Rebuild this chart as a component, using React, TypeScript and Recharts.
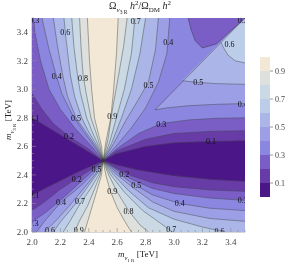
import { ScatterChart, Scatter, XAxis, YAxis, BarChart, Bar } from "recharts"

type Pt = [number, number]

const FONT = "'Liberation Serif', 'DejaVu Serif', serif"

// fill colours, band 0-0.1 up to 0.9-1
const levelColors = ["#4b1688", "#683ca7", "#7a5ec6", "#8b86df", "#9c9fe6", "#acb5e7", "#bccde9", "#cad9e3", "#dde0dc", "#f2e8d5"]
const contourLevels = [0.1, 0.2, 0.3, 0.4, 0.5, 0.6, 0.7, 0.8, 0.9]
const legendTicks = [0.1, 0.3, 0.5, 0.7, 0.9]

const frameTicks = [
  2.0, 2.05, 2.1, 2.15, 2.2, 2.25, 2.3, 2.35, 2.4, 2.45, 2.5, 2.55, 2.6, 2.65, 2.7, 2.75,
  2.8, 2.85, 2.9, 2.95, 3.0, 3.05, 3.1, 3.15, 3.2, 3.25, 3.3, 3.35, 3.4, 3.45, 3.5,
]

// contour branches from the centre point to the frame, index 0 = 0.1 ... 8 = 0.9
const upperLeft: Pt[][] = [
  [[2.5, 2.5], [2.4, 2.56], [2.3, 2.62], [2.2, 2.68], [2.1, 2.74], [2.0, 2.8]],
  [[2.5, 2.5], [2.4, 2.58], [2.26, 2.67], [2.15, 2.76], [2.07, 2.86], [2.0, 2.97]],
  [[2.5, 2.5], [2.42, 2.6], [2.3, 2.73], [2.2, 2.86], [2.12, 3.0], [2.06, 3.2], [2.02, 3.4], [2.01, 3.5]],
  [[2.5, 2.5], [2.44, 2.6], [2.36, 2.71], [2.28, 2.83], [2.21, 2.97], [2.17, 3.1], [2.12, 3.28], [2.07, 3.5]],
  [[2.5, 2.5], [2.45, 2.6], [2.38, 2.7], [2.31, 2.8], [2.25, 2.95], [2.22, 3.08], [2.18, 3.3], [2.15, 3.5]],
  [[2.5, 2.5], [2.46, 2.6], [2.4, 2.7], [2.35, 2.8], [2.3, 2.95], [2.27, 3.1], [2.24, 3.35], [2.225, 3.5]],
  [[2.5, 2.5], [2.47, 2.6], [2.425, 2.7], [2.385, 2.8], [2.34, 2.98], [2.32, 3.1], [2.295, 3.3], [2.28, 3.5]],
  [[2.5, 2.5], [2.48, 2.6], [2.45, 2.7], [2.415, 2.8], [2.38, 2.98], [2.36, 3.1], [2.345, 3.3], [2.335, 3.5]],
  [[2.5, 2.5], [2.49, 2.6], [2.465, 2.7], [2.44, 2.8], [2.42, 3.0], [2.405, 3.2], [2.39, 3.5]],
]

const upperRight: Pt[][] = [
  [[2.5, 2.5], [2.6, 2.55], [2.8, 2.6], [3.0, 2.625], [3.25, 2.635], [3.5, 2.64]],
  [[2.5, 2.5], [2.6, 2.57], [2.8, 2.65], [3.0, 2.69], [3.25, 2.705], [3.5, 2.71]],
  [[2.5, 2.5], [2.6, 2.585], [2.75, 2.69], [2.91, 2.76], [3.1, 2.785], [3.3, 2.797], [3.5, 2.8]],
  [[2.5, 2.5], [2.59, 2.6], [2.7, 2.73], [2.8, 2.87], [2.89, 3.05], [2.95, 3.25], [2.97, 3.5]],
  [[2.5, 2.5], [2.575, 2.62], [2.66, 2.78], [2.75, 2.93], [2.82, 3.05], [2.87, 3.28], [2.89, 3.5]],
  [[2.5, 2.5], [2.56, 2.62], [2.63, 2.8], [2.7, 3.0], [2.76, 3.25], [2.8, 3.5]],
  [[2.5, 2.5], [2.55, 2.64], [2.6, 2.82], [2.65, 3.0], [2.7, 3.25], [2.725, 3.5]],
  [[2.5, 2.5], [2.535, 2.65], [2.565, 2.85], [2.61, 3.1], [2.645, 3.3], [2.67, 3.5]],
  [[2.5, 2.5], [2.52, 2.63], [2.555, 2.8], [2.575, 3.0], [2.595, 3.25], [2.607, 3.5]],
]

const lowerLeft: Pt[][] = [
  [[2.5, 2.5], [2.4, 2.455], [2.3, 2.41], [2.2, 2.36], [2.1, 2.31], [2.0, 2.26]],
  [[2.5, 2.5], [2.42, 2.44], [2.315, 2.375], [2.2, 2.3], [2.1, 2.22], [2.0, 2.15]],
  [[2.5, 2.5], [2.43, 2.43], [2.33, 2.34], [2.22, 2.24], [2.1, 2.14], [2.0, 2.07]],
  [[2.5, 2.5], [2.44, 2.42], [2.34, 2.32], [2.205, 2.21], [2.1, 2.09], [2.03, 2.0]],
  [[2.5, 2.5], [2.45, 2.41], [2.36, 2.3], [2.26, 2.18], [2.16, 2.07], [2.085, 2.0]],
  [[2.5, 2.5], [2.46, 2.41], [2.38, 2.3], [2.3, 2.19], [2.2, 2.07], [2.15, 2.0]],
  [[2.5, 2.5], [2.47, 2.4], [2.41, 2.3], [2.34, 2.2], [2.27, 2.08], [2.22, 2.0]],
  [[2.5, 2.5], [2.48, 2.4], [2.44, 2.3], [2.39, 2.18], [2.33, 2.07], [2.3, 2.0]],
  [[2.5, 2.5], [2.49, 2.4], [2.46, 2.3], [2.43, 2.2], [2.4, 2.1], [2.37, 2.0]],
]

const lowerRight: Pt[][] = [
  [[2.5, 2.5], [2.6, 2.47], [2.75, 2.435], [3.0, 2.395], [3.25, 2.37], [3.5, 2.355]],
  [[2.5, 2.5], [2.6, 2.445], [2.7, 2.395], [2.85, 2.345], [3.0, 2.318], [3.25, 2.295], [3.5, 2.285]],
  [[2.5, 2.5], [2.6, 2.435], [2.7, 2.37], [2.85, 2.305], [3.0, 2.27], [3.25, 2.238], [3.5, 2.222]],
  [[2.5, 2.5], [2.59, 2.425], [2.7, 2.345], [2.85, 2.26], [3.04, 2.2], [3.25, 2.167], [3.5, 2.15]],
  [[2.5, 2.5], [2.58, 2.415], [2.7, 2.32], [2.85, 2.21], [3.0, 2.145], [3.25, 2.095], [3.5, 2.075]],
  [[2.5, 2.5], [2.57, 2.405], [2.68, 2.29], [2.82, 2.17], [3.0, 2.09], [3.2, 2.035], [3.36, 2.0]],
  [[2.5, 2.5], [2.555, 2.4], [2.65, 2.28], [2.78, 2.15], [2.9, 2.065], [2.99, 2.0]],
  [[2.5, 2.5], [2.54, 2.4], [2.6, 2.28], [2.68, 2.15], [2.76, 2.05], [2.82, 2.0]],
  [[2.5, 2.5], [2.52, 2.4], [2.55, 2.29], [2.6, 2.17], [2.65, 2.08], [2.7, 2.0]],
]

// top right: pocket below 0.3 above the m1 = m3 edge, and the bands under that edge
const pocketEdge: Pt[] = [[3.1, 3.5], [3.12, 3.42], [3.15, 3.34], [3.2, 3.29], [3.3, 3.32], [3.4, 3.41], [3.5, 3.5]]
const diagonalEdge: Pt[] = [[2.866, 2.856], [3.5, 3.5]]
const band4Edge: Pt[] = [[2.866, 2.856], [2.95, 2.87], [3.1, 2.885], [3.3, 2.895], [3.5, 2.9]]
const band5Edge: Pt[] = [[3.06, 3.06], [3.15, 3.05], [3.3, 3.04], [3.5, 3.035]]
const band6Edge: Pt[] = [[3.33, 3.33], [3.35, 3.29], [3.38, 3.24], [3.43, 3.2], [3.5, 3.185]]

const contourLabels: { x: number; y: number; label: string }[] = [
  { x: 2.015, y: 3.485, label: "0.3" }, { x: 2.235, y: 3.4, label: "0.6" },
  { x: 2.175, y: 3.09, label: "0.4" }, { x: 2.36, y: 3.08, label: "0.8" },
  { x: 2.015, y: 2.8, label: "0.1" }, { x: 2.31, y: 2.8, label: "0.5" },
  { x: 2.26, y: 2.67, label: "0.2" }, { x: 2.565, y: 2.81, label: "0.9" },
  { x: 2.73, y: 3.48, label: "0.7" }, { x: 2.96, y: 3.33, label: "0.4" },
  { x: 2.82, y: 3.03, label: "0.5" }, { x: 3.485, y: 3.485, label: "0.3" },
  { x: 3.39, y: 3.32, label: "0.6" }, { x: 3.17, y: 3.05, label: "0.5" },
  { x: 3.485, y: 2.9, label: "0.4" }, { x: 2.91, y: 2.76, label: "0.3" },
  { x: 3.26, y: 2.635, label: "0.1" }, { x: 2.315, y: 2.375, label: "0.2" },
  { x: 2.455, y: 2.445, label: "0.5" }, { x: 2.65, y: 2.41, label: "0.2" },
  { x: 2.565, y: 2.29, label: "0.9" }, { x: 2.735, y: 2.33, label: "0.5" },
  { x: 2.015, y: 2.26, label: "0.1" }, { x: 2.205, y: 2.21, label: "0.4" },
  { x: 2.338, y: 2.217, label: "0.7" }, { x: 2.68, y: 2.145, label: "0.8" },
  { x: 3.04, y: 2.2, label: "0.4" }, { x: 3.485, y: 2.222, label: "0.3" },
  { x: 2.01, y: 2.06, label: "0.3" }, { x: 2.127, y: 2.015, label: "0.6" },
  { x: 2.33, y: 2.015, label: "0.9" }, { x: 2.98, y: 2.02, label: "0.7" },
  { x: 3.32, y: 2.01, label: "0.6" },
]

const corners: [number, Pt][] = [[0, [2, 3.5]], [1.5, [3.5, 3.5]], [3, [3.5, 2]], [4.5, [2, 2]]]

// position along the frame, clockwise from the top left corner
function perim([x, y]: Pt) {
  if (Math.abs(y - 3.5) < 1e-9) return x - 2
  if (Math.abs(x - 3.5) < 1e-9) return 1.5 + (3.5 - y)
  if (Math.abs(y - 2) < 1e-9) return 3 + (3.5 - x)
  return 4.5 + (y - 2)
}

function frameWalk(a: Pt, b: Pt): Pt[] {
  const ta = perim(a)
  let tb = perim(b)
  if (tb < ta) tb += 6
  const out: [number, Pt][] = []
  for (const [t, c] of corners) {
    for (const tt of [t, t + 6]) if (tt > ta && tt < tb) out.push([tt, c])
  }
  return out.sort((p, q) => p[0] - q[0]).map((p) => p[1])
}

function region(first: Pt[], second: Pt[]): Pt[] {
  const a = first[first.length - 1]
  const b = second[second.length - 1]
  return [...first, ...frameWalk(a, b), ...second.slice(1).reverse()]
}

const fills: { pts: Pt[]; color: string }[] = [
  { pts: [[2, 2], [2, 3.5], [3.5, 3.5], [3.5, 2]], color: levelColors[0] },
]
contourLevels.forEach((_, i) => {
  fills.push({ pts: region(upperLeft[i], upperRight[i]), color: levelColors[i + 1] })
  fills.push({ pts: region(lowerRight[i], lowerLeft[i]), color: levelColors[i + 1] })
  if (i === 2) fills.push({ pts: pocketEdge, color: levelColors[2] })
  if (i === 3) fills.push({ pts: [diagonalEdge[0], [3.5, 3.5], ...band4Edge.slice(1).reverse()], color: levelColors[4] })
  if (i === 4) fills.push({ pts: [band5Edge[0], [3.5, 3.5], ...band5Edge.slice(1).reverse()], color: levelColors[5] })
  if (i === 5) fills.push({ pts: [...band6Edge, [3.5, 3.46], [3.46, 3.46]], color: levelColors[6] })
})

const lines: Pt[][] = [
  ...upperLeft, ...upperRight, ...lowerLeft, ...lowerRight,
  pocketEdge, diagonalEdge, band4Edge, band5Edge, band6Edge,
]

const legendRow = [
  contourLevels.reduce((row, lv, i) => ({ ...row, [`b${i}`]: lv - (i ? contourLevels[i - 1] : 0) }), { name: "bar", b9: 0.1 } as Record<string, any>),
]

const toData = (pts: Pt[]) => pts.map(([x, y]) => ({ x, y }))
const blank = () => <g />

function FrameTick(props: any) {
  const { x, y, payload, side } = props
  const v = payload.value as number
  const major = Math.round(v * 100) % 20 === 0
  const len = major ? 4 : 2
  const stroke = "#8c8c8c"
  if (side === "bottom")
    return (
      <g>
        <line x1={x} y1={y} x2={x} y2={y - len} stroke={stroke} strokeWidth={0.6} />
        {major && v < 3.45 && (
          <text x={x} y={y + 13} textAnchor="middle" fontSize={9} fontFamily={FONT} fill="#444">{v.toFixed(1)}</text>
        )}
      </g>
    )
  if (side === "left")
    return (
      <g>
        <line x1={x} y1={y} x2={x + len} y2={y} stroke={stroke} strokeWidth={0.6} />
        {major && v < 3.45 && (
          <text x={x - 4} y={y + 3} textAnchor="end" fontSize={9} fontFamily={FONT} fill="#444">{v.toFixed(1)}</text>
        )}
      </g>
    )
  if (side === "top") return <line x1={x} y1={y} x2={x} y2={y + len} stroke={stroke} strokeWidth={0.6} />
  return <line x1={x} y1={y} x2={x - len} y2={y} stroke={stroke} strokeWidth={0.6} />
}

function ContourLabel(props: any) {
  const { cx, cy, payload } = props
  return (
    <text x={cx} y={cy + 3} textAnchor="middle" fontSize={8} fontFamily={FONT} fill="#111">{payload.label}</text>
  )
}

export default function App() {
  const axisProps = {
    type: "number" as const,
    domain: [2, 3.5],
    ticks: frameTicks,
    interval: 0 as const,
    tickSize: 0,
    tickMargin: 0,
    tickLine: false,
    allowDataOverflow: true,
    axisLine: { stroke: "#9a9a9a", strokeWidth: 0.8 },
  }
  return (
    <div style={{ position: "fixed", left: 0, top: 0, width: 288, height: 265, background: "#fff", fontFamily: FONT }}>
      <div style={{ position: "absolute", left: 60, top: -1, width: 160, textAlign: "center", fontSize: 10, color: "#222", whiteSpace: "nowrap" }}>
        Ω<sub style={{ fontSize: 7 }}><i>ν</i><sub style={{ fontSize: 5.5 }}>3 R</sub></sub> <i>h</i><sup style={{ fontSize: 7 }}>2</sup>/Ω<sub style={{ fontSize: 7 }}>DM</sub> <i>h</i><sup style={{ fontSize: 7 }}>2</sup>
      </div>
      <ScatterChart width={288} height={265} margin={{ top: 18, right: 43, bottom: 0, left: 0 }}>
        <XAxis {...axisProps} dataKey="x" orientation="bottom" height={33} tick={<FrameTick side="bottom" />} />
        <XAxis {...axisProps} xAxisId="top" orientation="top" height={0} tick={<FrameTick side="top" />} />
        <YAxis {...axisProps} dataKey="y" orientation="left" width={32} tick={<FrameTick side="left" />} />
        <YAxis {...axisProps} yAxisId="right" orientation="right" width={0} tick={<FrameTick side="right" />} />
        {fills.map((f, i) => (
          <Scatter
            key={`fill-${i}`}
            data={toData(f.pts)}
            line={{ fill: f.color, stroke: f.color, strokeWidth: 0.4 }}
            lineType="joint"
            shape={blank}
            isAnimationActive={false}
          />
        ))}
        {lines.map((l, i) => (
          <Scatter
            key={`line-${i}`}
            data={toData(l)}
            line={{ fill: "none", stroke: "#333", strokeOpacity: 0.7, strokeWidth: 0.6 }}
            lineType="joint"
            shape={blank}
            isAnimationActive={false}
          />
        ))}
        <Scatter data={contourLabels} shape={<ContourLabel />} isAnimationActive={false} />
      </ScatterChart>
      <div style={{ position: "absolute", left: 259, top: 56 }}>
        <BarChart width={30} height={142} data={legendRow} margin={{ top: 1, right: 0, bottom: 1, left: 1 }} barCategoryGap={0} barGap={0}>
          <XAxis dataKey="name" hide />
          <YAxis
            orientation="right"
            type="number"
            domain={[0, 1]}
            ticks={legendTicks}
            width={19}
            tickSize={3}
            tickMargin={2}
            axisLine={false}
            tickLine={{ stroke: "#999" }}
            tick={{ fontSize: 8, fill: "#444", fontFamily: FONT }}
          />
          {levelColors.map((c, i) => (
            <Bar key={c} dataKey={`b${i}`} stackId="s" fill={c} isAnimationActive={false} />
          ))}
        </BarChart>
      </div>
      <div style={{ position: "absolute", left: 90, top: 249, width: 96, textAlign: "center", fontSize: 9, color: "#222", whiteSpace: "nowrap" }}>
        <i>m</i><sub style={{ fontSize: 6.5 }}><i>ν</i><sub style={{ fontSize: 5 }}>1 R</sub></sub> [TeV]
      </div>
      <div style={{ position: "absolute", left: -38, top: 113, width: 96, textAlign: "center", fontSize: 9, color: "#222", whiteSpace: "nowrap", transform: "rotate(-90deg)" }}>
        <i>m</i><sub style={{ fontSize: 6.5 }}><i>ν</i><sub style={{ fontSize: 5 }}>3 R</sub></sub> [TeV]
      </div>
    </div>
  )
}
